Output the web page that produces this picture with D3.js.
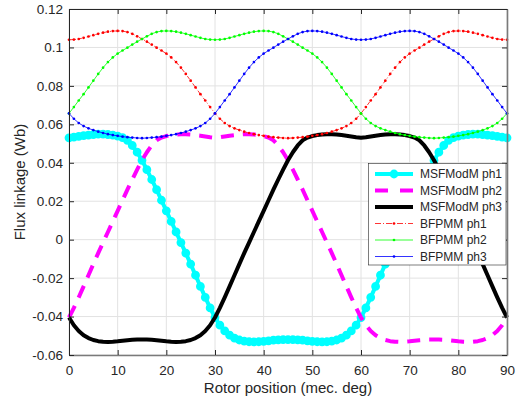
<!DOCTYPE html>
<html><head><meta charset="utf-8">
<script src="https://cdn.jsdelivr.net/npm/d3@7"></script>
<style>
body{margin:0;background:#fff}
svg{display:block}
text{font-family:"Liberation Sans",Arial,Helvetica,sans-serif;fill:#262626}
</style>
</head><body>
<svg id="chart" width="517" height="403"></svg>
<script>
const rotorDeg = d3.range(0, 91, 1);

const msfPh1 = [0.0530,0.0533,0.0537,0.0541,0.0544,0.0547,0.0549,0.0549,0.0547,0.0544,
 0.0539,0.0531,0.0517,0.0490,0.0455,0.0413,0.0364,0.0313,0.0260,0.0205,
 0.0150,0.0095,0.0040,-0.0015,-0.0070,-0.0127,-0.0185,-0.0243,-0.0300,-0.0355,
 -0.0405,-0.0445,-0.0475,-0.0497,-0.0512,-0.0522,-0.0528,-0.0531,-0.0532,-0.0531,
 -0.0529,-0.0526,-0.0523,-0.0521,-0.0520,-0.0520,-0.0520,-0.0521,-0.0523,-0.0526,
 -0.0529,-0.0531,-0.0532,-0.0531,-0.0528,-0.0522,-0.0512,-0.0497,-0.0475,-0.0445,
 -0.0405,-0.0355,-0.0300,-0.0243,-0.0185,-0.0127,-0.0070,-0.0015,0.0040,0.0095,
 0.0150,0.0205,0.0260,0.0313,0.0364,0.0413,0.0455,0.0490,0.0517,0.0531,
 0.0539,0.0544,0.0547,0.0549,0.0549,0.0547,0.0544,0.0541,0.0537,0.0533,
 0.0530];

const msfPh2 = [-0.0405,-0.0355,-0.0300,-0.0243,-0.0185,-0.0127,-0.0070,-0.0015,0.0040,0.0095,
 0.0150,0.0205,0.0260,0.0313,0.0364,0.0413,0.0455,0.0490,0.0517,0.0531,
 0.0539,0.0544,0.0547,0.0549,0.0549,0.0547,0.0544,0.0541,0.0537,0.0533,
 0.0530,0.0533,0.0537,0.0541,0.0544,0.0547,0.0549,0.0549,0.0547,0.0544,
 0.0539,0.0531,0.0517,0.0490,0.0455,0.0413,0.0364,0.0313,0.0260,0.0205,
 0.0150,0.0095,0.0040,-0.0015,-0.0070,-0.0127,-0.0185,-0.0243,-0.0300,-0.0355,
 -0.0405,-0.0445,-0.0475,-0.0497,-0.0512,-0.0522,-0.0528,-0.0531,-0.0532,-0.0531,
 -0.0529,-0.0526,-0.0523,-0.0521,-0.0520,-0.0520,-0.0520,-0.0521,-0.0523,-0.0526,
 -0.0529,-0.0531,-0.0532,-0.0531,-0.0528,-0.0522,-0.0512,-0.0497,-0.0475,-0.0445,
 -0.0405];

const msfPh3 = [-0.0405,-0.0445,-0.0475,-0.0497,-0.0512,-0.0522,-0.0528,-0.0531,-0.0532,-0.0531,
 -0.0529,-0.0526,-0.0523,-0.0521,-0.0520,-0.0520,-0.0520,-0.0521,-0.0523,-0.0526,
 -0.0529,-0.0531,-0.0532,-0.0531,-0.0528,-0.0522,-0.0512,-0.0497,-0.0475,-0.0445,
 -0.0405,-0.0355,-0.0300,-0.0243,-0.0185,-0.0127,-0.0070,-0.0015,0.0040,0.0095,
 0.0150,0.0205,0.0260,0.0313,0.0364,0.0413,0.0455,0.0490,0.0517,0.0531,
 0.0539,0.0544,0.0547,0.0549,0.0549,0.0547,0.0544,0.0541,0.0537,0.0533,
 0.0530,0.0533,0.0537,0.0541,0.0544,0.0547,0.0549,0.0549,0.0547,0.0544,
 0.0539,0.0531,0.0517,0.0490,0.0455,0.0413,0.0364,0.0313,0.0260,0.0205,
 0.0150,0.0095,0.0040,-0.0015,-0.0070,-0.0127,-0.0185,-0.0243,-0.0300,-0.0355,
 -0.0405];

const bfPh1 = [0.1040,0.1041,0.1044,0.1050,0.1057,0.1064,0.1071,0.1077,0.1082,0.1085,
 0.1086,0.1085,0.1080,0.1071,0.1058,0.1044,0.1030,0.1015,0.0999,0.0984,
 0.0968,0.0948,0.0924,0.0895,0.0862,0.0827,0.0792,0.0757,0.0724,0.0690,
 0.0657,0.0629,0.0607,0.0591,0.0579,0.0570,0.0562,0.0555,0.0549,0.0544,
 0.0540,0.0536,0.0533,0.0531,0.0529,0.0528,0.0529,0.0531,0.0533,0.0536,
 0.0540,0.0544,0.0549,0.0555,0.0562,0.0570,0.0579,0.0591,0.0607,0.0629,
 0.0657,0.0690,0.0724,0.0757,0.0792,0.0827,0.0862,0.0895,0.0924,0.0948,
 0.0968,0.0984,0.0999,0.1015,0.1030,0.1044,0.1058,0.1071,0.1080,0.1085,
 0.1086,0.1085,0.1082,0.1077,0.1071,0.1064,0.1057,0.1050,0.1044,0.1041,
 0.1040];

const bfPh2 = [0.0657,0.0690,0.0724,0.0757,0.0792,0.0827,0.0862,0.0895,0.0924,0.0948,
 0.0968,0.0984,0.0999,0.1015,0.1030,0.1044,0.1058,0.1071,0.1080,0.1085,
 0.1086,0.1085,0.1082,0.1077,0.1071,0.1064,0.1057,0.1050,0.1044,0.1041,
 0.1040,0.1041,0.1044,0.1050,0.1057,0.1064,0.1071,0.1077,0.1082,0.1085,
 0.1086,0.1085,0.1080,0.1071,0.1058,0.1044,0.1030,0.1015,0.0999,0.0984,
 0.0968,0.0948,0.0924,0.0895,0.0862,0.0827,0.0792,0.0757,0.0724,0.0690,
 0.0657,0.0629,0.0607,0.0591,0.0579,0.0570,0.0562,0.0555,0.0549,0.0544,
 0.0540,0.0536,0.0533,0.0531,0.0529,0.0528,0.0529,0.0531,0.0533,0.0536,
 0.0540,0.0544,0.0549,0.0555,0.0562,0.0570,0.0579,0.0591,0.0607,0.0629,
 0.0657];

const bfPh3 = [0.0657,0.0629,0.0607,0.0591,0.0579,0.0570,0.0562,0.0555,0.0549,0.0544,
 0.0540,0.0536,0.0533,0.0531,0.0529,0.0528,0.0529,0.0531,0.0533,0.0536,
 0.0540,0.0544,0.0549,0.0555,0.0562,0.0570,0.0579,0.0591,0.0607,0.0629,
 0.0657,0.0690,0.0724,0.0757,0.0792,0.0827,0.0862,0.0895,0.0924,0.0948,
 0.0968,0.0984,0.0999,0.1015,0.1030,0.1044,0.1058,0.1071,0.1080,0.1085,
 0.1086,0.1085,0.1082,0.1077,0.1071,0.1064,0.1057,0.1050,0.1044,0.1041,
 0.1040,0.1041,0.1044,0.1050,0.1057,0.1064,0.1071,0.1077,0.1082,0.1085,
 0.1086,0.1085,0.1080,0.1071,0.1058,0.1044,0.1030,0.1015,0.0999,0.0984,
 0.0968,0.0948,0.0924,0.0895,0.0862,0.0827,0.0792,0.0757,0.0724,0.0690,
 0.0657];

const xTicks = [0,10,20,30,40,50,60,70,80,90];
const yTicks = [-0.06,-0.04,-0.02,0,0.02,0.04,0.06,0.08,0.1,0.12];
const yTickLabels = ["-0.06","-0.04","-0.02","0","0.02","0.04","0.06","0.08","0.1","0.12"];
const seriesNames = ["MSFModM ph1","MSFModM ph2","MSFModM ph3","BFPMM ph1","BFPMM ph2","BFPMM ph3"];
const xTitle = "Rotor position (mec. deg)";
const yTitle = "Flux linkage (Wb)";

// styles
const styles = [
  {color:"#00ffff", width:4, dash:null, marker:"circle"},
  {color:"#ff00ff", width:4, dash:"13,9", marker:null},
  {color:"#000000", width:4, dash:null, marker:null},
  {color:"#ff0000", width:0.8, dash:"4,2,1,2", marker:"dot"},
  {color:"#00ff00", width:0.8, dash:null, marker:"dot"},
  {color:"#0000ff", width:0.8, dash:null, marker:"dot"}
];
const seriesData = [msfPh1, msfPh2, msfPh3, bfPh1, bfPh2, bfPh3];

const L=69, R=507, T=9, B=355;
const svg = d3.select("#chart");
const x = d3.scaleLinear().domain([0,90]).range([L,R]);
const y = d3.scaleLinear().domain([-0.06,0.12]).range([B,T]);

// grid
const grid = svg.append("g");
grid.selectAll(".gx").data(xTicks).enter().append("line")
  .attr("x1",d=>x(d)).attr("x2",d=>x(d)).attr("y1",T).attr("y2",B)
  .attr("stroke","#e2e2e2").attr("stroke-width",1);
grid.selectAll(".gy").data(yTicks).enter().append("line")
  .attr("x1",L).attr("x2",R).attr("y1",d=>y(d)).attr("y2",d=>y(d))
  .attr("stroke","#e2e2e2").attr("stroke-width",1);

// series
const lineGen = d3.line().x((d,i)=>x(rotorDeg[i])).y(d=>y(d));
seriesData.forEach((data,k)=>{
  const s = styles[k];
  const g = svg.append("g");
  const p = g.append("path").attr("d", lineGen(data)).attr("fill","none")
    .attr("stroke", s.color).attr("stroke-width", s.width).attr("stroke-linejoin","round");
  if (s.dash) p.attr("stroke-dasharray", s.dash);
  if (s.marker === "circle") {
    g.selectAll("circle").data(data).enter().append("circle")
      .attr("cx",(d,i)=>x(rotorDeg[i])).attr("cy",d=>y(d)).attr("r",3.4)
      .attr("fill",s.color).attr("stroke",s.color).attr("stroke-width",2);
  } else if (s.marker === "dot") {
    g.selectAll("circle").data(data).enter().append("circle")
      .attr("cx",(d,i)=>x(rotorDeg[i])).attr("cy",d=>y(d)).attr("r",1.35)
      .attr("fill",s.color);
  }
});

// axes
const fontPx = "13.5px";
const axB = svg.append("g").attr("transform",`translate(0,${B})`)
  .call(d3.axisBottom(x).tickValues(xTicks).tickSize(-5).tickSizeOuter(0).tickPadding(10));
const axL = svg.append("g").attr("transform",`translate(${L},0)`)
  .call(d3.axisLeft(y).tickValues(yTicks).tickFormat((d,i)=>yTickLabels[i]).tickSize(-5).tickSizeOuter(0).tickPadding(6));
const axT = svg.append("g").attr("transform",`translate(0,${T})`)
  .call(d3.axisTop(x).tickValues(xTicks).tickSize(-5).tickSizeOuter(0).tickFormat(""));
const axR = svg.append("g").attr("transform",`translate(${R},0)`)
  .call(d3.axisRight(y).tickValues(yTicks).tickSize(-5).tickSizeOuter(0).tickFormat(""));
[axB,axL,axT,axR].forEach(a=>{
  a.selectAll("path.domain").attr("stroke","#262626").attr("stroke-width",1);
  a.selectAll(".tick line").attr("stroke","#262626");
  a.selectAll("text").attr("font-size",fontPx).attr("fill","#262626")
    .attr("font-family",'"Liberation Sans",Arial,sans-serif');
});
axB.select("path.domain").attr("stroke","#7a7a7a").attr("stroke-width",1.6);
axR.select("path.domain").attr("stroke","#7a7a7a").attr("stroke-width",1.6);

// titles
svg.append("text").attr("x",(L+R)/2).attr("y",393).attr("text-anchor","middle")
  .attr("font-size","15px").text(xTitle);
svg.append("text").attr("transform",`translate(25,${(T+B)/2}) rotate(-90)`)
  .attr("text-anchor","middle").attr("font-size","15px").text(yTitle);

// legend
const lg = svg.append("g");
lg.append("rect").attr("x",368.5).attr("y",163.5).attr("width",137.5).attr("height",101.5)
  .attr("fill","#fff").attr("stroke","#262626").attr("stroke-width",0.6);
const rowY = d3.scaleLinear().domain([0,5]).range([174,256.5]);
seriesNames.forEach((name,k)=>{
  const s = styles[k];
  const cy = rowY(k);
  const l = lg.append("line").attr("x1",375).attr("x2",413).attr("y1",cy).attr("y2",cy)
    .attr("stroke",s.color).attr("stroke-width",s.width);
  if (s.dash) l.attr("stroke-dasharray", k===1 ? "13,12" : "6,2,1,2");
  if (s.marker==="circle") lg.append("circle").attr("cx",394).attr("cy",cy).attr("r",3.4)
    .attr("fill",s.color).attr("stroke",s.color).attr("stroke-width",2);
  if (s.marker==="dot") lg.append("circle").attr("cx",394).attr("cy",cy).attr("r",1.35).attr("fill",s.color);
  lg.append("text").attr("x",420).attr("y",cy).attr("dy","0.36em").attr("font-size","12px").text(name);
});
</script>
</body></html>
